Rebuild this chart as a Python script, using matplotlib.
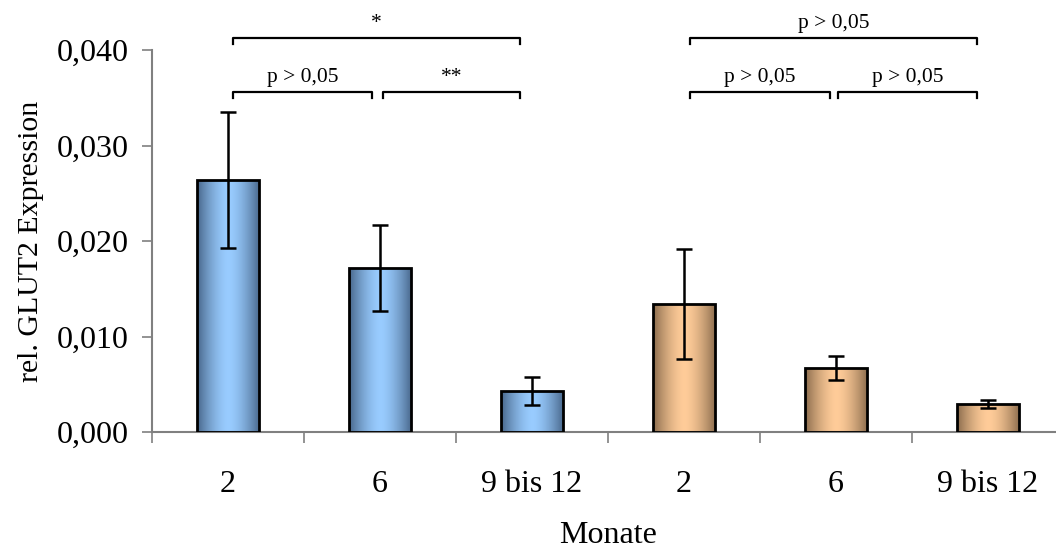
import numpy as np
import matplotlib
matplotlib.use('Agg')
import matplotlib.pyplot as plt

# Daten
kategorien = ['2', '6', '9 bis 12', '2', '6', '9 bis 12']
werte = [0.0264, 0.0172, 0.0043, 0.0134, 0.0067, 0.0029]
fehler = [0.0071, 0.0045, 0.0015, 0.0058, 0.0013, 0.0004]
gruppe = ['blau', 'blau', 'blau', 'orange', 'orange', 'orange']

# Klammern: (x1, x2, Hoehe, Text)
klammern_x1 = [0.03, 0.03, 1.02, 3.04, 3.04, 4.01]
klammern_x2 = [1.92, 0.95, 1.92, 4.93, 3.96, 4.93]
klammern_y = [0.04126, 0.0356, 0.0356, 0.04126, 0.0356, 0.0356]
klammern_text = ['*', 'p > 0,05', '**', 'p > 0,05', 'p > 0,05', 'p > 0,05']

farben = {
    'blau': ((0.28, 0.40, 0.54), (0.60, 0.80, 1.00)),
    'orange': ((0.54, 0.42, 0.30), (1.00, 0.80, 0.60)),
}

plt.rcParams['font.family'] = ['Liberation Serif', 'DejaVu Serif']

fig = plt.figure(figsize=(10.56, 5.49), dpi=100)
ax = fig.add_axes([0.144, 0.2131, 0.8636, 0.6958])

x = np.arange(len(werte))
breite = 0.41
balken = ax.bar(x, werte, width=breite, facecolor='none', edgecolor='black',
                linewidth=2, zorder=3)

# Farbverlauf in jedem Balken (dunkel am Rand, hell in der Mitte)
t = np.linspace(0, 1, 256)
f = 1 - np.abs(2 * t - 1) ** 1.6
for b, g in zip(balken, gruppe):
    dunkel, hell = np.array(farben[g][0]), np.array(farben[g][1])
    img = dunkel[None, :] + (hell - dunkel)[None, :] * f[:, None]
    img = img[None, :, :]
    x0, y0 = b.get_x(), b.get_y()
    im = ax.imshow(img, extent=[x0, x0 + b.get_width(), y0, y0 + b.get_height()],
                   aspect='auto', zorder=2, interpolation='bilinear')
    im.set_clip_path(b)

ax.errorbar(x, werte, yerr=fehler, fmt='none', ecolor='black', elinewidth=1.8,
            capsize=5.5, capthick=1.8, zorder=4)

ax.set_xlim(-0.5, 5.5)
ax.set_ylim(0, 0.040)
ax.set_yticks([0, 0.01, 0.02, 0.03, 0.04])
ax.set_yticklabels(['0,000', '0,010', '0,020', '0,030', '0,040'])
ax.set_xticks(x)
ax.set_xticklabels(kategorien)
ax.set_xticks(np.arange(-0.5, 6, 1), minor=True)
ax.tick_params(axis='x', which='major', length=0, labelsize=23, pad=27)
ax.tick_params(axis='x', which='minor', length=8, width=1.2, color='#808080', direction='out')
ax.tick_params(axis='y', length=7, width=1.2, color='#808080', labelsize=23, pad=10)

for s in ['top', 'right']:
    ax.spines[s].set_visible(False)
for s in ['left', 'bottom']:
    ax.spines[s].set_color('#808080')
    ax.spines[s].set_linewidth(1.5)

ax.set_ylabel('rel. GLUT2 Expression', fontsize=21.5)
ax.yaxis.set_label_coords(-0.118, 0.5)
ax.set_xlabel('Monate', fontsize=23)
ax.xaxis.set_label_coords(0.5, -0.232)

# Signifikanzklammern
for x1, x2, y, txt in zip(klammern_x1, klammern_x2, klammern_y, klammern_text):
    ax.plot([x1, x1, x2, x2], [y - 0.0006, y, y, y - 0.0006], color='black',
            linewidth=1.6, clip_on=False, zorder=5)
    ax.text((x1 + x2) / 2, y + 0.0005, txt, ha='center', va='bottom', fontsize=15.5)

fig.savefig('out.png', dpi=100)
